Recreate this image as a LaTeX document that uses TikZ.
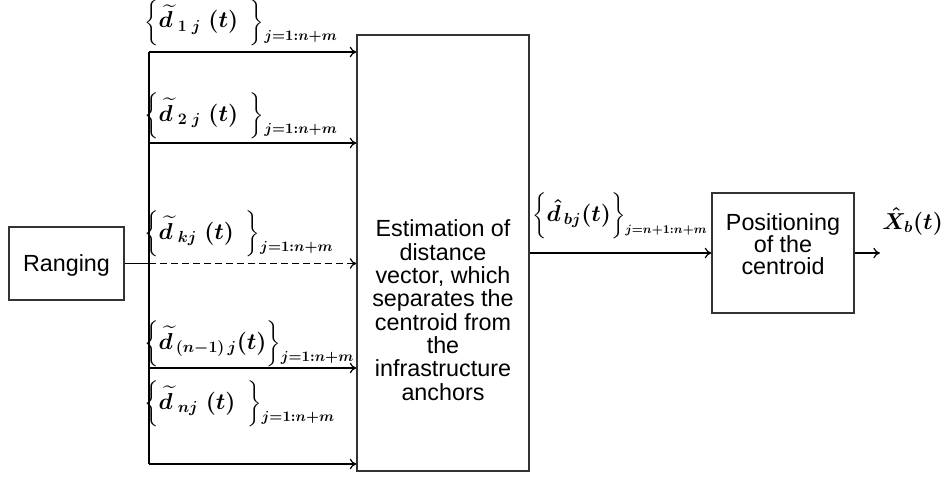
\documentclass[tikz,border=0pt]{standalone}
\usepackage{amsmath}
\usepackage{fontspec}
\setmainfont{Liberation Serif}
\newfontfamily\arialfont{Liberation Sans}
\usetikzlibrary{arrows.meta}
\newcommand{\lbr}{\hbox{\fontsize{15.5}{18}\selectfont$\biggl\{$}}
\newcommand{\rbr}{\hbox{\fontsize{15.5}{18}\selectfont$\biggr\}$}}
\newcommand{\mylab}[3]{$\lbr#1\rbr\lower9.5pt\hbox{\fontsize{#3}{18}\selectfont$\scriptstyle #2$}$}
\begin{document}
\begin{tikzpicture}[x=0.75pt,y=-0.75pt,
  box/.style={draw=black!80, line width=0.9pt, inner sep=0pt},
  boxtext/.style={align=center, inner sep=0pt, font=\arialfont\fontsize{17.5}{17.5}\selectfont},
  wire/.style={line width=0.9pt},
  conn/.style={line width=0.9pt, -{To[length=5pt,width=8pt]}},
  lab/.style={anchor=base west, inner sep=0pt, font=\fontsize{18.5}{20}\selectfont\boldmath}]
\fill[white] (0,0) rectangle (941,478);
\useasboundingbox (0,0) rectangle (941,478);
% boxes
\node[box, minimum width=86.25pt, minimum height=54.75pt] (rng) at (66.5,263.5) {};
\node[boxtext] (rngt) at (66.5,265) {Ranging};
\node[box, minimum width=129pt, minimum height=327pt] (est) at (443,253) {};
\node[boxtext] (estt) at (443,310) {Estimation of\\distance\\vector, which\\separates the\\centroid from\\the\\infrastructure\\anchors};
\node[box, minimum width=106.5pt, minimum height=90pt] (pos) at (783,253) {};
\node[boxtext, font=\arialfont\fontsize{17.5}{16.5}\selectfont] (post) at (783,244) {Positioning\\of the\\centroid};
% bus
\coordinate (b1) at (149,52);
\coordinate (b2) at (149,143);
\coordinate (bk) at (149,263.5);
\coordinate (b4) at (149,368);
\coordinate (b5) at (149,464);
\draw[wire] (b1) -- (b5);
\draw[wire] (rng.east) -- (bk);
\draw[conn] (b1) -- (b1 -| est.west);
\draw[conn] (b2) -- (b2 -| est.west);
\draw[conn, dash pattern=on 5.25pt off 3pt] (bk) -- (bk -| est.west);
\draw[conn] (b4) -- (b4 -| est.west);
\draw[conn] (b5) -- (b5 -| est.west);
\draw[conn] (est.east) -- (pos.west);
\coordinate (out) at (880,253);
\draw[conn] (pos.east) -- (out);
% labels
\node[lab] (l1) at (144,28) {\mylab{\widetilde{d}_{\;1\;j}\;(t)\;\,}{j=1:n+m}{16}};
\node[lab] (l2) at (144,121) {\mylab{\widetilde{d}_{\;2\;j}\;(t)\;\,}{j=1:n+m}{16}};
\node[lab] (lk) at (144,239) {\mylab{\widetilde{d}_{\;kj}\;(t)\;\,}{j=1:n+m}{16}};
\node[lab] (l4) at (144,349) {\mylab{\widetilde{d}_{\,(n-1)\,j}(t)}{j=1:n+m}{15}};
\node[lab] (l5) at (144,409) {\mylab{\widetilde{d}_{\;nj}\;(t)\;\,}{j=1:n+m}{16}};
\node[lab] (lb) at (532,221) {\mylab{\hat{d}_{\,bj}(t)}{j=n+1:n+m}{13}};
\node[lab, font=\fontsize{18}{22}\selectfont\boldmath] (lx) at (882,229) {$\hat{X}_{b}(t)$};
\end{tikzpicture}
\end{document}
